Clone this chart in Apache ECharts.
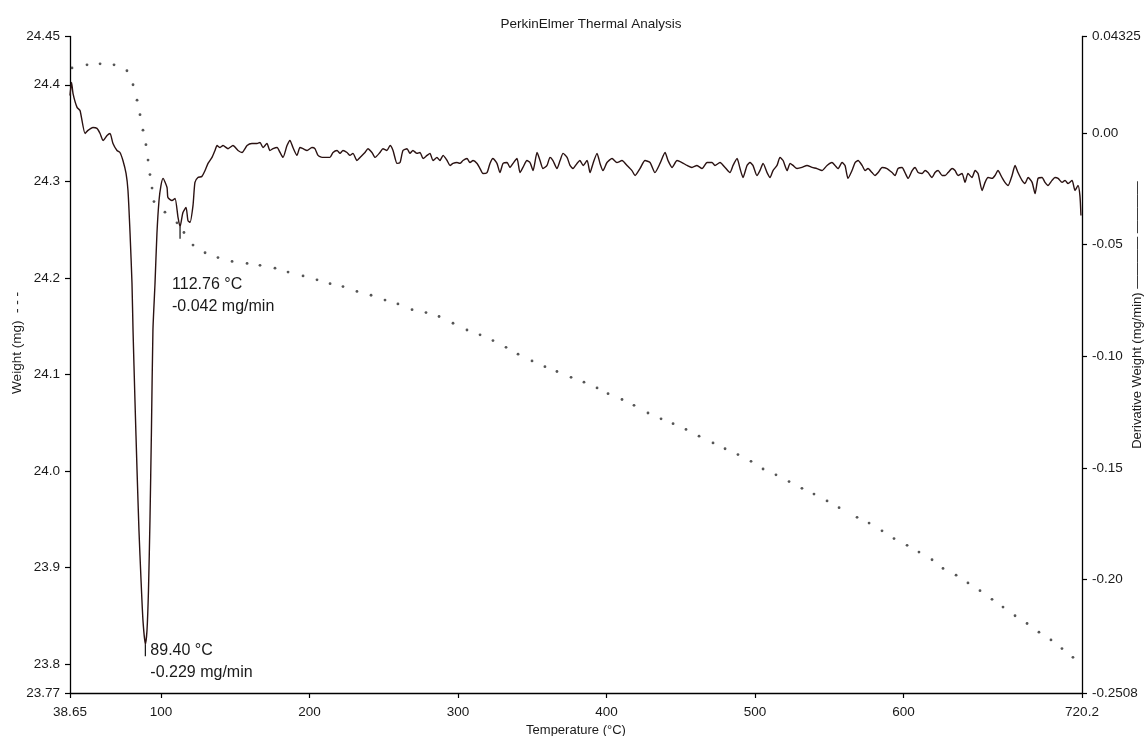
<!DOCTYPE html>
<html>
<head>
<meta charset="utf-8">
<title>PerkinElmer Thermal Analysis</title>
<script src="https://cdn.jsdelivr.net/npm/echarts@6/dist/echarts.min.js"></script>
<style>
  html, body { margin: 0; padding: 0; background: #fff; }
  #main { width: 1146px; height: 736px; }
</style>
</head>
<body>
<div id="main"></div>
<script>
// tick labels of the three axes
const xTicks = [38.65, 100, 200, 300, 400, 500, 600, 720.2];
const weightTicks = [23.77, 23.8, 23.9, 24.0, 24.1, 24.2, 24.3, 24.4, 24.45];
const rateTicks = [-0.2508, -0.20, -0.15, -0.10, -0.05, 0.00, 0.04325];

// weight (mg) vs temperature (°C), dotted trace
const weightPoints = [
  [40.0, 24.4175], [50.1, 24.4207], [58.9, 24.4217], [68.3, 24.4207], [77.0, 24.4145],
  [81.1, 24.400], [83.8, 24.384], [85.8, 24.369], [87.8, 24.353], [89.8, 24.338],
  [91.2, 24.322], [92.5, 24.307], [93.9, 24.293], [95.2, 24.279], [102.6, 24.268],
  [110.7, 24.257], [115.4, 24.247], [121.5, 24.234], [129.6, 24.226], [138.3, 24.221],
  [147.8, 24.217], [157.9, 24.215], [166.6, 24.213], [176.7, 24.210], [185.5, 24.206],
  [195.6, 24.202], [205.0, 24.198], [213.8, 24.194], [222.5, 24.191], [231.9, 24.186],
  [241.4, 24.182], [250.8, 24.177], [259.5, 24.173], [269.0, 24.167], [278.4, 24.164],
  [287.2, 24.160], [296.6, 24.153], [306.0, 24.146], [314.8, 24.141], [323.5, 24.135],
  [332.3, 24.128], [340.4, 24.121], [349.8, 24.114], [358.5, 24.108], [366.6, 24.103],
  [376.1, 24.097], [384.8, 24.092], [393.6, 24.086], [401.0, 24.080], [410.4, 24.074],
  [418.5, 24.068], [427.9, 24.060], [436.7, 24.054], [444.8, 24.049], [453.5, 24.043],
  [462.3, 24.036], [471.7, 24.029], [479.8, 24.023], [488.5, 24.017], [497.3, 24.010],
  [505.4, 24.002], [514.1, 23.996], [522.9, 23.989], [531.6, 23.982], [539.7, 23.976],
  [548.5, 23.969], [556.6, 23.962], [568.7, 23.952], [576.8, 23.946], [585.5, 23.938],
  [593.6, 23.930], [602.4, 23.923], [610.4, 23.916], [619.2, 23.908], [626.6, 23.899],
  [635.4, 23.892], [643.4, 23.884], [651.5, 23.876], [659.6, 23.867], [667.0, 23.859],
  [675.1, 23.850], [683.2, 23.842], [691.2, 23.833], [699.3, 23.825], [706.7, 23.816],
  [714.1, 23.807]
];

// derivative weight (mg/min) up to the end of the main loss
const dtgLoss = [
  [38.65, 0.0168], [39.7, 0.0227], [40.7, 0.0177], [43.4, 0.0115], [45.4, 0.0101],
  [48.8, -0.0002], [50.8, 0.0012], [54.1, 0.0025], [56.8, 0.0021], [58.9, -0.0002],
  [60.9, -0.0033], [63.6, -0.0011], [65.6, -0.0002], [67.6, -0.0047], [70.3, -0.0078],
  [72.3, -0.0087], [74.3, -0.0123], [76.4, -0.0181], [77.7, -0.0257], [79.1, -0.0450],
  [80.4, -0.0674], [81.1, -0.0884], [82.4, -0.1198], [83.8, -0.1512], [85.1, -0.1780],
  [86.5, -0.2004], [87.8, -0.2184], [89.4, -0.229], [90.5, -0.2228], [91.5, -0.2049],
  [92.5, -0.1736], [93.5, -0.1332], [94.5, -0.0884], [95.9, -0.0674], [97.2, -0.0450],
  [98.6, -0.0302], [99.9, -0.0235], [101.3, -0.0203], [104.0, -0.0244], [104.6, -0.0289],
  [107.3, -0.0302], [109.4, -0.0293], [111.4, -0.0378], [112.76, -0.042], [114.7, -0.0356],
  [116.8, -0.0333], [118.1, -0.0392], [119.5, -0.0400], [121.5, -0.0324], [122.8, -0.0221],
  [124.8, -0.0199], [127.5, -0.0194], [129.6, -0.0168], [131.6, -0.0136], [134.3, -0.0109],
  [136.3, -0.0078]
];

// derivative weight (mg/min) on the long plateau
const dtgPlateau = [
  [137.7,-0.0056],[139.7,-0.0065],[141.7,-0.0056],[145.1,-0.0070],[148.4,-0.0056],[151.8,-0.0078],
  [154.5,-0.0087],[157.9,-0.0056],[161.2,-0.0047],[164.6,-0.0047],[166.6,-0.0042],[168.6,-0.0065],
  [171.3,-0.0047],[173.3,-0.0078],[175.4,-0.0070],[178.1,-0.0065],[180.1,-0.0087],[182.1,-0.0109],
  [184.8,-0.0056],[186.8,-0.0033],[188.8,-0.0065],[191.5,-0.0100],[193.5,-0.0065],[195.6,-0.0070],
  [198.3,-0.0078],[201.6,-0.0065],[203.6,-0.0070],[205.7,-0.0100],[208.4,-0.0109],[211.7,-0.0109],
  [213.7,-0.0109],[215.8,-0.0087],[218.5,-0.0078],[220.5,-0.0091],[222.5,-0.0078],[225.2,-0.0087],
  [227.2,-0.0100],[229.2,-0.0091],[231.9,-0.0123],[234.0,-0.0109],[237.3,-0.0087],[239.3,-0.0070],
  [242.0,-0.0087],[244.1,-0.0109],[247.4,-0.0087],[249.4,-0.0070],[252.1,-0.0078],[254.2,-0.0056],
  [256.2,-0.0078],[258.9,-0.0136],[260.9,-0.0132],[262.9,-0.0078],[265.6,-0.0070],[267.6,-0.0091],
  [269.6,-0.0078],[272.3,-0.0091],[274.4,-0.0087],[276.4,-0.0114],[279.1,-0.0100],[281.1,-0.0091],
  [283.1,-0.0123],[285.8,-0.0109],[287.8,-0.0123],[289.9,-0.0100],[292.6,-0.0123],[294.6,-0.0145],
  [296.6,-0.0136],[299.3,-0.0132],[301.3,-0.0136],[303.3,-0.0123],[306.0,-0.0114],[308.0,-0.0132],
  [310.1,-0.0123],[312.8,-0.0136],[314.8,-0.0159],[316.8,-0.0181],[319.5,-0.0177],[321.5,-0.0136],
  [323.5,-0.0114],[326.2,-0.0136],[328.2,-0.0177],[330.3,-0.0136],[333.0,-0.0132],[335.0,-0.0154],
  [337.0,-0.0136],[339.7,-0.0114],[341.7,-0.0177],[343.7,-0.0154],[346.4,-0.0123],[348.5,-0.0132],
  [350.5,-0.0168],[353.2,-0.0087],[355.2,-0.0123],[357.2,-0.0159],[359.9,-0.0145],[361.9,-0.0109],
  [363.9,-0.0123],[366.6,-0.0159],[368.7,-0.0123],[370.7,-0.0091],[373.4,-0.0109],[375.4,-0.0145],
  [377.4,-0.0159],[380.1,-0.0136],[382.1,-0.0123],[384.2,-0.0145],[386.9,-0.0123],[388.9,-0.0177],
  [390.9,-0.0136],[393.6,-0.0091],[395.6,-0.0136],[397.6,-0.0168],[400.3,-0.0132],[403.7,-0.0114],
  [407.0,-0.0132],[410.4,-0.0123],[413.8,-0.0145],[417.1,-0.0168],[419.2,-0.0190],[422.5,-0.0159],
  [425.9,-0.0123],[429.3,-0.0132],[432.6,-0.0177],[436.0,-0.0136],[439.4,-0.0087],[441.4,-0.0123],
  [444.1,-0.0154],[447.5,-0.0123],[450.8,-0.0132],[454.2,-0.0145],[457.5,-0.0154],[460.9,-0.0145],
  [464.3,-0.0159],[467.7,-0.0132],[471.0,-0.0132],[473.0,-0.0145],[476.4,-0.0132],[479.8,-0.0154],
  [483.1,-0.0177],[485.2,-0.0145],[487.9,-0.0114],[489.9,-0.0159],[491.9,-0.0199],[494.6,-0.0145],
  [496.6,-0.0132],[498.6,-0.0145],[501.3,-0.0190],[503.3,-0.0168],[505.4,-0.0136],[508.1,-0.0177],
  [510.1,-0.0199],[512.1,-0.0168],[514.8,-0.0145],[516.8,-0.0109],[518.9,-0.0123],[521.6,-0.0168],
  [523.6,-0.0136],[525.6,-0.0145],[528.3,-0.0159],[531.6,-0.0154],[535.0,-0.0145],[538.4,-0.0154],
  [541.7,-0.0159],[545.1,-0.0168],[548.5,-0.0145],[551.8,-0.0132],[553.9,-0.0145],[555.9,-0.0159],
  [558.6,-0.0132],[560.6,-0.0145],[562.6,-0.0203],[565.3,-0.0168],[567.4,-0.0132],[569.4,-0.0123],
  [572.1,-0.0145],[574.1,-0.0168],[576.1,-0.0159],[578.8,-0.0177],[580.8,-0.0190],[582.9,-0.0177],
  [585.6,-0.0154],[588.9,-0.0159],[592.3,-0.0177],[594.3,-0.0190],[596.3,-0.0159],[599.0,-0.0154],
  [601.0,-0.0177],[603.1,-0.0203],[605.8,-0.0168],[607.8,-0.0154],[609.8,-0.0177],[612.5,-0.0181],
  [614.5,-0.0168],[616.5,-0.0177],[619.2,-0.0199],[621.2,-0.0177],[623.3,-0.0168],[626.0,-0.0190],
  [628.0,-0.0190],[630.0,-0.0177],[632.7,-0.0159],[634.7,-0.0168],[636.7,-0.0190],[639.4,-0.0181],
  [641.4,-0.0221],[643.4,-0.0181],[646.1,-0.0199],[648.2,-0.0168],[650.2,-0.0181],[652.9,-0.0257],
  [654.9,-0.0221],[656.9,-0.0199],[659.6,-0.0203],[661.6,-0.0190],[663.6,-0.0168],[666.3,-0.0199],
  [668.3,-0.0221],[670.4,-0.0235],[673.1,-0.0190],[675.1,-0.0145],[677.1,-0.0177],[679.8,-0.0212],
  [681.8,-0.0226],[683.9,-0.0199],[686.6,-0.0221],[688.6,-0.0271],[690.6,-0.0203],[693.3,-0.0199],
  [695.3,-0.0221],[697.3,-0.0235],[700.0,-0.0212],[702.0,-0.0199],[704.1,-0.0203],[706.8,-0.0221],
  [708.8,-0.0212],[710.8,-0.0226],[713.5,-0.0212],[715.5,-0.0257],[717.5,-0.0235],[718.8,-0.0280],
  [719.5,-0.0369]
];

// labelled peaks of the derivative curve
const peakTemps = [89.40, 112.76];
const peakRates = [-0.229, -0.042];

const FONT = 'Liberation Sans, Arial, sans-serif';
const INK = '#1a1a1a';

function tickText(v, ticks, digits) {
  const i = ticks.findIndex(t => Math.abs(t - v) < 1e-6);
  if (i === 0 || i === ticks.length - 1) return String(ticks[i]);
  return v.toFixed(digits);
}

const axisBase = {
  type: 'value',
  axisLine: { show: true, onZero: false, lineStyle: { color: '#000', width: 1.3 } },
  axisTick: { show: true, length: 5, lineStyle: { color: '#000', width: 1.2 } },
  axisLabel: { color: INK, fontFamily: FONT, fontSize: 13.5 },
  splitLine: { show: false }
};

const chart = echarts.init(document.getElementById('main'));

chart.setOption({
  animation: false,
  backgroundColor: '#fff',
  title: {
    text: 'PerkinElmer Thermal Analysis',
    left: 586, top: 12, textAlign: 'center',
    textStyle: { fontFamily: FONT, fontSize: 13.5, fontWeight: 'normal', color: INK }
  },
  grid: { left: 70, right: 64, top: 36.5, bottom: 43, outerBoundsMode: 'none', containLabel: false },
  xAxis: Object.assign({}, axisBase, {
    min: 38.65, max: 720.2,
    name: 'Temperature (°C)', nameLocation: 'middle', nameGap: 28,
    nameTextStyle: { fontFamily: FONT, fontSize: 13, color: INK },
    axisTick: Object.assign({}, axisBase.axisTick, { customValues: xTicks }),
    axisLabel: Object.assign({}, axisBase.axisLabel, {
      customValues: xTicks, margin: 12,
      formatter: v => tickText(v, xTicks, 0)
    })
  }),
  yAxis: [
    Object.assign({}, axisBase, {
      position: 'left', min: 23.77, max: 24.45,
      axisTick: Object.assign({}, axisBase.axisTick, { customValues: weightTicks }),
      axisLabel: Object.assign({}, axisBase.axisLabel, {
        customValues: weightTicks, margin: 10,
        formatter: v => tickText(v, weightTicks, 1)
      })
    }),
    Object.assign({}, axisBase, {
      position: 'right', min: -0.2508, max: 0.04325,
      axisTick: Object.assign({}, axisBase.axisTick, { customValues: rateTicks }),
      axisLabel: Object.assign({}, axisBase.axisLabel, {
        customValues: rateTicks, margin: 10,
        formatter: v => tickText(v, rateTicks, 2)
      })
    })
  ],
  series: [
    {
      name: 'Weight',
      type: 'scatter',
      xAxisIndex: 0, yAxisIndex: 0,
      symbol: 'circle', symbolSize: 2.8,
      itemStyle: { color: '#2b2b2b' },
      data: weightPoints,
      z: 3
    },
    {
      name: 'Derivative Weight',
      type: 'line',
      xAxisIndex: 0, yAxisIndex: 1,
      showSymbol: false,
      smooth: 0.2,
      lineStyle: { color: '#2a1212', width: 1.4 },
      data: dtgLoss.concat(dtgPlateau),
      z: 2
    }
  ]
});

// peak markers and their labels, placed through the axes
const labelShift = [[5, -5], [-8, 47]];
const graphics = [];
peakTemps.forEach((t, i) => {
  const p = chart.convertToPixel({ xAxisIndex: 0, yAxisIndex: 1 }, [t, peakRates[i]]);
  graphics.push({
    type: 'line', silent: true,
    shape: { x1: p[0], y1: p[1], x2: p[0], y2: p[1] + 12 },
    style: { stroke: '#111', lineWidth: 1.2 }
  });
  graphics.push({
    type: 'text', silent: true,
    x: p[0] + labelShift[i][0], y: p[1] + labelShift[i][1],
    style: {
      text: t.toFixed(2) + ' °C\n' + peakRates[i].toFixed(3) + ' mg/min',
      font: '16px ' + FONT, fill: INK, lineHeight: 22,
      textAlign: 'left', textVerticalAlign: 'top'
    }
  });
});

// rotated axis names
graphics.push({
  type: 'text', silent: true, x: 17, y: 343, rotation: Math.PI / 2,
  style: {
    text: 'Weight (mg)  - - -', font: '13.5px ' + FONT, fill: INK,
    textAlign: 'center', textVerticalAlign: 'middle'
  }
});
graphics.push({
  type: 'text', silent: true, x: 1137, y: 315, rotation: Math.PI / 2,
  style: {
    text: 'Derivative Weight (mg/min) \u2014\u2014\u2014\u2014 \u2014\u2014\u2014\u2014', font: '13px ' + FONT, fill: INK,
    textAlign: 'center', textVerticalAlign: 'middle'
  }
});

chart.setOption({ graphic: graphics });
</script>
</body>
</html>
